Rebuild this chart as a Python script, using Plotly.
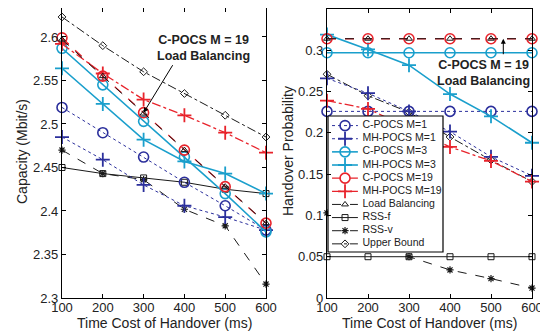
import plotly.graph_objects as go

# ---------------- data ----------------
x_ms = [100, 200, 300, 400, 500, 600]

cap_cpocs1 = [2.519, 2.490, 2.462, 2.433, 2.406, 2.378]
cap_mhpocs1 = [2.485, 2.459, 2.430, 2.406, 2.393, 2.378]
cap_cpocs3 = [2.587, 2.545, 2.503, 2.462, 2.420, 2.376]
cap_mhpocs3 = [2.564, 2.523, 2.482, 2.457, 2.443, 2.420]
cap_cpocs19 = [2.599, 2.555, 2.513, 2.470, 2.428, 2.386]
cap_mhpocs19 = [2.592, 2.558, 2.528, 2.510, 2.490, 2.467]
cap_lb = [2.597, 2.555, 2.512, 2.470, 2.428, 2.386]
cap_rssf = [2.450, 2.443, 2.438, 2.433, 2.425, 2.420]
cap_rssv = [2.470, 2.443, 2.436, 2.402, 2.383, 2.316]
cap_ub = [2.623, 2.590, 2.560, 2.535, 2.510, 2.485]

ho_cpocs1 = [0.226, 0.226, 0.226, 0.226, 0.226, 0.226]
ho_mhpocs1 = [0.266, 0.248, 0.226, 0.2015, 0.171, 0.148]
ho_cpocs3 = [0.297, 0.297, 0.297, 0.297, 0.297, 0.297]
ho_mhpocs3 = [0.319, 0.301, 0.282, 0.247, 0.220, 0.188]
ho_cpocs19 = [0.314, 0.314, 0.314, 0.314, 0.314, 0.314]
ho_mhpocs19 = [0.239, 0.229, 0.206, 0.183, 0.166, 0.141]
ho_lb = [0.314, 0.314, 0.314, 0.314, 0.314, 0.314]
ho_rssf = [0.05, 0.05, 0.05, 0.05, 0.05, 0.05]
ho_rssv = [0.103, 0.074, 0.05, 0.034, 0.0235, 0.012]
ho_ub = [0.271, 0.245, 0.225, 0.195, 0.167, 0.141]

cap_ticks = [2.3, 2.35, 2.4, 2.45, 2.5, 2.55, 2.6]
cap_ticktext = ["2.3", "2.35", "2.4", "2.45", "2.5", "2.55", "2.6"]
ho_ticks = [0, 0.05, 0.1, 0.15, 0.2, 0.25, 0.3, 0.35]
ho_ticktext = ["0", "0.05", "0.1", "0.15", "0.2", "0.25", "0.3", "0.35"]
x_ticks = [100, 200, 300, 400, 500, 600]

series_names = ["C-POCS M=1", "MH-POCS M=1", "C-POCS M=3", "MH-POCS M=3",
                "C-POCS M=19", "MH-POCS M=19", "Load Balancing", "RSS-f",
                "RSS-v", "Upper Bound"]

# ---------------- styles ----------------
BLUE = "#2b2f9c"
CYAN = "#1a9fcc"
RED = "#e8232b"
BLACK = "#1a1a1a"

styles = [
    dict(color=BLUE, dash="dot", width=1, symbol="circle-open", size=10, mlw=1.6),
    dict(color=BLUE, dash="dot", width=1, symbol="cross-thin-open", size=10, mlw=1.8),
    dict(color=CYAN, dash="solid", width=1.6, symbol="circle-open", size=10, mlw=1.6),
    dict(color=CYAN, dash="solid", width=1.6, symbol="cross-thin-open", size=10, mlw=1.8),
    dict(color=RED, dash="dash", width=1.3, symbol="circle-open", size=10, mlw=1.6),
    dict(color=RED, dash="dashdot", width=1.3, symbol="cross-thin-open", size=10, mlw=1.8),
    dict(color=BLACK, dash="dash", width=1, symbol="triangle-up-open", size=6, mlw=1),
    dict(color=BLACK, dash="solid", width=1, symbol="square-open", size=6, mlw=1),
    dict(color=BLACK, dash="dash", width=1, symbol="asterisk-open", size=6, mlw=1.2),
    dict(color=BLACK, dash="dashdot", width=1, symbol="diamond-open", size=6, mlw=1),
]

cap_series = [cap_cpocs1, cap_mhpocs1, cap_cpocs3, cap_mhpocs3, cap_cpocs19,
              cap_mhpocs19, cap_lb, cap_rssf, cap_rssv, cap_ub]
ho_series = [ho_cpocs1, ho_mhpocs1, ho_cpocs3, ho_mhpocs3, ho_cpocs19,
             ho_mhpocs19, ho_lb, ho_rssf, ho_rssv, ho_ub]

draw_order = [9, 7, 8, 0, 1, 3, 2, 5, 4, 6]

W, H = 548, 331
# the page body has an 8px default margin: convert screen px to paper fractions
OFF = 8


def fx(px):
    return (px - OFF) / W


def fy(py):
    return 1 - (py - OFF) / H


fig = go.Figure()


def tr(xv, yv, st, xa, ya):
    return go.Scatter(
        x=xv, y=yv, mode="lines+markers", xaxis=xa, yaxis=ya, showlegend=False,
        line=dict(color=st["color"], dash=st["dash"], width=st["width"]),
        marker=dict(symbol=st["symbol"], size=st["size"], color=st["color"],
                    line=dict(color=st["color"], width=st["mlw"])),
        cliponaxis=False, hoverinfo="skip")


for i in draw_order:
    fig.add_trace(tr(x_ms, cap_series[i], styles[i], "x", "y"))
for i in draw_order:
    fig.add_trace(tr(x_ms, ho_series[i], styles[i], "x2", "y2"))

# ---------------- compact legend on an overlay of the right panel ----------------
n = len(series_names)
fig.add_trace(go.Scatter(
    x=[0, 1, 1, 0, 0], y=[-0.73, -0.73, 9.62, 9.62, -0.73], mode="lines",
    fill="toself", fillcolor="white", line=dict(color="black", width=1.2),
    xaxis="x3", yaxis="y3", showlegend=False, cliponaxis=False, hoverinfo="skip"))
for i, name in enumerate(series_names):
    st = styles[i]
    fig.add_trace(go.Scatter(
        x=[0.035, 0.26], y=[i, i], mode="lines", xaxis="x3", yaxis="y3",
        line=dict(color=st["color"], dash=st["dash"], width=st["width"]),
        showlegend=False, cliponaxis=False, hoverinfo="skip"))
    fig.add_trace(go.Scatter(
        x=[0.148], y=[i], mode="markers", xaxis="x3", yaxis="y3",
        marker=dict(symbol=st["symbol"], size=st["size"], color=st["color"],
                    line=dict(color=st["color"], width=st["mlw"])),
        showlegend=False, cliponaxis=False, hoverinfo="skip"))
fig.add_trace(go.Scatter(
    x=[0.30] * n, y=list(range(n)), mode="text", text=series_names,
    textposition="middle right", xaxis="x3", yaxis="y3",
    textfont=dict(size=10.5, color="#222", family="Liberation Sans, Arial"),
    showlegend=False, cliponaxis=False, hoverinfo="skip"))

# ---------------- axes ----------------
FONT = "Liberation Sans, Arial, sans-serif"
axis_common = dict(showline=True, linecolor="black", linewidth=1.2, mirror="allticks",
                   ticks="inside", ticklen=4, tickcolor="black", showgrid=False,
                   zeroline=False, tickfont=dict(size=13, family=FONT, color="#222"),
                   automargin=False)

x2_px = (327, 532)
box_px_x = (328, 443)
ux = 1.0 / (box_px_x[1] - box_px_x[0])
x3_range = [0 - (box_px_x[0] - x2_px[0]) * ux, 1 + (x2_px[1] - box_px_x[1]) * ux]
y2_px = (9, 298)
box_px_y = (116, 252)
uy = (9.62 + 0.73) / (box_px_y[1] - box_px_y[0])
y3_range = [9.62 + (y2_px[1] - box_px_y[1]) * uy, -0.73 - (box_px_y[0] - y2_px[0]) * uy]

fig.update_layout(
    template="none",
    width=W, height=H, margin=dict(l=0, r=0, t=0, b=0, autoexpand=False),
    paper_bgcolor="white", plot_bgcolor="white",
    font=dict(family=FONT, size=13, color="#222"),
    showlegend=False,
    xaxis=dict(domain=[fx(62), fx(266)], range=[100, 600], tickvals=x_ticks,
               anchor="y", ticklabelstandoff=-3, **axis_common),
    yaxis=dict(domain=[fy(298), fy(8)], range=[2.3, 2.6333], tickvals=cap_ticks,
               ticktext=cap_ticktext, anchor="x", **axis_common),
    xaxis2=dict(domain=[fx(x2_px[0]), fx(x2_px[1])], range=[100, 600], tickvals=x_ticks,
                anchor="y2", ticklabelstandoff=-3, **axis_common),
    yaxis2=dict(domain=[fy(y2_px[1]), fy(y2_px[0])], range=[0, 0.35],
                tickvals=ho_ticks, ticktext=ho_ticktext, anchor="x2", **axis_common),
    xaxis3=dict(overlaying="x2", range=x3_range, visible=False, anchor="y3",
                automargin=False),
    yaxis3=dict(overlaying="y2", range=y3_range, visible=False, anchor="x3",
                automargin=False),
)

# ---------------- axis titles ----------------
tfont = dict(family=FONT, size=14, color="#222")
centered = dict(xref="paper", yref="paper", showarrow=False,
                xanchor="center", yanchor="middle")
fig.add_annotation(x=fx(164), y=fy(323), text="Time Cost of Handover (ms)",
                   font=tfont, **centered)
fig.add_annotation(x=fx(429), y=fy(323), text="Time Cost of Handover (ms)",
                   font=tfont, **centered)
fig.add_annotation(x=fx(22), y=fy(152), text="Capacity (Mbit/s)", font=tfont,
                   textangle=-90, **centered)
fig.add_annotation(x=fx(288), y=fy(151), text="Handover Probability", font=tfont,
                   textangle=-90, **centered)

# ---------------- callouts ----------------
bold = dict(family=FONT, size=12.5, color="#222")
fig.add_annotation(x=x_ms[2], y=cap_cpocs19[2], xref="x", yref="y", text="",
                   showarrow=True, ax=30, ay=-49, arrowhead=2, arrowsize=1,
                   arrowwidth=1, arrowcolor="black", standoff=0)
fig.add_annotation(x=fx(203), y=fy(48), text="<b>C-POCS M = 19<br>Load Balancing</b>",
                   font=bold, align="center", **centered)
fig.add_annotation(x=530, y=ho_cpocs19[5], xref="x2", yref="y2", text="",
                   showarrow=True, ax=0, ay=17, arrowhead=2, arrowsize=1,
                   arrowwidth=1, arrowcolor="black", standoff=0)
fig.add_annotation(x=fx(483), y=fy(73), text="<b>C-POCS M = 19<br>Load Balancing</b>",
                   font=bold, align="center", **centered)

fig.write_html("out.html")
